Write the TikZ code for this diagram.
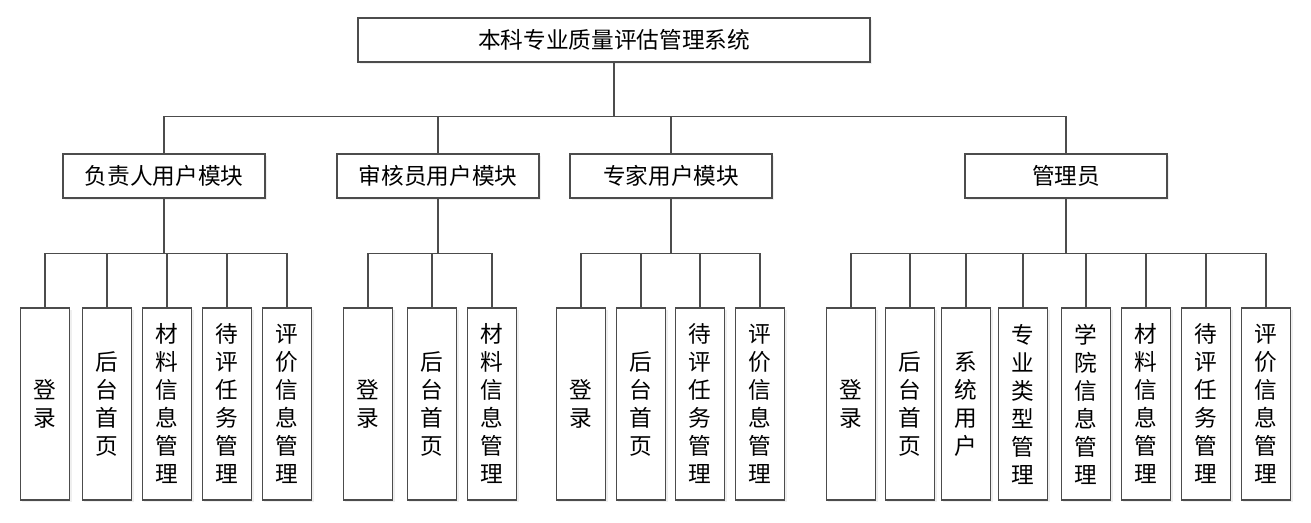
\documentclass[tikz,border=0pt]{standalone}
\usepackage{fontspec}
\newfontfamily\cjk{Noto Sans CJK SC}
\usetikzlibrary{shadows}

\tikzset{
  box/.style={draw=black!70, line width=0.9pt, fill=white,
    drop shadow={shadow xshift=1.5pt, shadow yshift=-1.5pt, fill=black!12},
    font=\cjk\fontsize{17}{21}\selectfont, inner sep=0pt},
  topbox/.style={box, minimum width=384pt, minimum height=33pt},
  modbox/.style={box, minimum width=151.5pt, minimum height=33pt},
  leafbox/.style={box, minimum width=37pt, minimum height=144pt, align=center},
  link/.style={draw=black!70, line width=0.9pt}
}

\begin{document}
\begin{tikzpicture}[x=0.75pt,y=-0.75pt]
\useasboundingbox (0,0) rectangle (1311,523);

% top
\node[topbox] (root) at (614,40) {本科专业质量评估管理系统};

% modules
\node[modbox] (m1) at (164,176) {负责人用户模块};
\node[modbox] (m2) at (438,176) {审核员用户模块};
\node[modbox] (m3) at (671,176) {专家用户模块};
\node[modbox] (m4) at (1066,176) {管理员};

% leaves of m1
\node[leafbox] (a1) at (45,404) {登\\录};
\node[leafbox] (a2) at (107,404) {后\\台\\首\\页};
\node[leafbox] (a3) at (167,404) {材\\料\\信\\息\\管\\理};
\node[leafbox] (a4) at (227,404) {待\\评\\任\\务\\管\\理};
\node[leafbox] (a5) at (287,404) {评\\价\\信\\息\\管\\理};

% leaves of m2
\node[leafbox] (b1) at (368,404) {登\\录};
\node[leafbox] (b2) at (432,404) {后\\台\\首\\页};
\node[leafbox] (b3) at (492,404) {材\\料\\信\\息\\管\\理};

% leaves of m3
\node[leafbox] (c1) at (581,404) {登\\录};
\node[leafbox] (c2) at (641,404) {后\\台\\首\\页};
\node[leafbox] (c3) at (700,404) {待\\评\\任\\务\\管\\理};
\node[leafbox] (c4) at (760,404) {评\\价\\信\\息\\管\\理};

% leaves of m4
\node[leafbox] (d1) at (851,404) {登\\录};
\node[leafbox] (d2) at (910,404) {后\\台\\首\\页};
\node[leafbox] (d3) at (966,404) {系\\统\\用\\户};
\node[leafbox] (d4) at (1023,404) {专\\业\\类\\型\\管\\理};
\node[leafbox] (d5) at (1086,404) {学\\院\\信\\息\\管\\理};
\node[leafbox] (d6) at (1146,404) {材\\料\\信\\息\\管\\理};
\node[leafbox] (d7) at (1206,404) {待\\评\\任\\务\\管\\理};
\node[leafbox] (d8) at (1266,404) {评\\价\\信\\息\\管\\理};

% connectors
\foreach \m in {m1,m2,m3,m4}
  \draw[link] (root.south) -- ++(0,54) -| (\m.north);
\foreach \l in {a1,a2,a3,a4,a5}
  \draw[link] (m1.south) -- ++(0,55) -| (\l.north);
\foreach \l in {b1,b2,b3}
  \draw[link] (m2.south) -- ++(0,55) -| (\l.north);
\foreach \l in {c1,c2,c3,c4}
  \draw[link] (m3.south) -- ++(0,55) -| (\l.north);
\foreach \l in {d1,d2,d3,d4,d5,d6,d7,d8}
  \draw[link] (m4.south) -- ++(0,55) -| (\l.north);
\end{tikzpicture}
\end{document}
